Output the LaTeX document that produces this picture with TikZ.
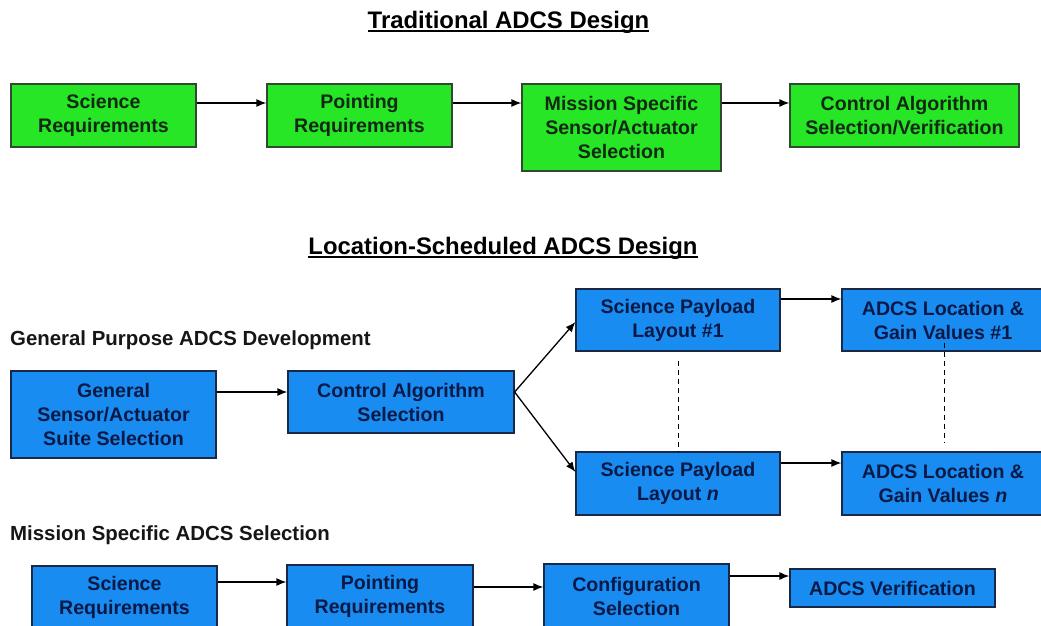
\documentclass[tikz,border=0pt]{standalone}
\usepackage{fontspec}
\setmainfont{Liberation Sans}
\usetikzlibrary{arrows.meta,positioning,calc}
\definecolor{gfill}{RGB}{38,230,38}
\definecolor{gdraw}{RGB}{50,72,50}
\definecolor{gtext}{RGB}{18,40,18}
\definecolor{bfill}{RGB}{24,140,240}
\definecolor{bdraw}{RGB}{25,40,70}
\definecolor{btext}{RGB}{10,25,70}
\definecolor{ltext}{RGB}{22,22,22}
\tikzset{
  boxbase/.style={line width=1.2pt, inner sep=0pt, align=center,
    font=\fontsize{19.6}{24}\selectfont\bfseries},
  gbox/.style={boxbase, draw=gdraw, fill=gfill, text=gtext},
  bbox/.style={boxbase, draw=bdraw, fill=bfill, text=btext},
  arr/.style={line width=1.3pt, -{Latex[length=10pt,width=8pt]}},
  dash line/.style={line width=0.9pt, dash pattern=on 5pt off 4pt},
  titletext/.style={inner sep=0pt, font=\fontsize{23.9}{28}\selectfont\bfseries},
  lbl/.style={inner sep=0pt, anchor=west, text=ltext, font=\fontsize{20.4}{24}\selectfont\bfseries},
}
\begin{document}
\begin{tikzpicture}[x=1pt,y=-1pt]
\useasboundingbox (0,0) rectangle (1041,626);
\fill[white] (0,0) rectangle (1041,626);

% Titles
\node[titletext] (title1) at (508.5,22) {Traditional ADCS Design};
\draw[line width=1.8pt] ([yshift=-3pt]title1.base west) -- ([yshift=-3pt]title1.base east);
\node[titletext] (title2) at (503,248) {Location-Scheduled ADCS Design};
\draw[line width=1.8pt] ([yshift=-3pt]title2.base west) -- ([yshift=-3pt]title2.base east);

% Traditional row
\node[gbox, minimum width=185pt, minimum height=63pt] (t1) at (103.5,115.5) {Science\\Requirements};
\node[gbox, minimum width=185pt, minimum height=63pt] (t2) at (359.5,115.5) {Pointing\\Requirements};
\node[gbox, minimum width=199pt, minimum height=87pt] (t3) at (621.5,127.5) {Mission Specific\\Sensor/Actuator\\Selection};
\node[gbox, minimum width=229pt, minimum height=63pt] (t4) at (904.5,115.5) {Control Algorithm\\Selection/Verification};
\draw[arr] ([yshift=12.5pt]t1.east) -- ([yshift=12.5pt]t1.east -| t2.west);
\draw[arr] ([yshift=12.5pt]t2.east) -- ([yshift=12.5pt]t2.east -| t3.west);
\draw[arr] ([yshift=24.5pt]t3.east) -- ([yshift=24.5pt]t3.east -| t4.west);

% General purpose
\node[lbl] (lg) at (10,340) {General Purpose ADCS Development};
\node[bbox, minimum width=205pt, minimum height=87pt] (g1) at (113.5,414.5) {General\\Sensor/Actuator\\Suite Selection};
\node[bbox, minimum width=226pt, minimum height=62pt] (g2) at (401,402) {Control Algorithm\\Selection};
\node[bbox, minimum width=204pt, minimum height=62pt] (p1) at (678,320) {Science Payload\\Layout \#1};
\node[bbox, minimum width=202pt, minimum height=62pt] (a1) at (943,320) {ADCS Location \&\\Gain Values \#1};
\node[bbox, minimum width=204pt, minimum height=63pt] (pn) at (678,483.5) {Science Payload\\Layout \textit{n}};
\node[bbox, minimum width=202pt, minimum height=63pt] (an) at (943,483.5) {ADCS Location \&\\Gain Values \textit{n}};
\draw[arr] ([yshift=22.5pt]g1.east) -- ([yshift=22.5pt]g1.east -| g2.west);
\coordinate (split) at ([yshift=10pt]g2.east);
\draw[arr] (split) -- ([yshift=-2pt]p1.west);
\draw[arr] (split) -- ([yshift=11.5pt]pn.west);
\draw[arr] ([yshift=21pt]p1.east) -- ([yshift=21pt]p1.east -| a1.west);
\draw[arr] ([yshift=20.5pt]pn.east) -- ([yshift=20.5pt]pn.east -| an.west);
\draw[dash line] ([yshift=-9pt]p1.south) -- (pn.north);
\draw[dash line] ([xshift=1pt,yshift=9pt]a1.south) -- ([xshift=1pt,yshift=9pt]an.north);

% Mission specific
\node[lbl] (lm) at (10,535) {Mission Specific ADCS Selection};
\node[bbox, minimum width=185pt, minimum height=62pt] (b1) at (124.5,597) {Science\\Requirements};
\node[bbox, minimum width=186pt, minimum height=62pt] (b2) at (380,596) {Pointing\\Requirements};
\node[bbox, minimum width=185pt, minimum height=64pt] (b3) at (636.5,596) {Configuration\\Selection};
\node[bbox, minimum width=205pt, minimum height=38pt] (b4) at (892.5,588) {ADCS Verification};
\draw[arr] ([yshift=15pt]b1.east) -- ([yshift=15pt]b1.east -| b2.west);
\draw[arr] ([yshift=9pt]b2.east) -- ([yshift=9pt]b2.east -| b3.west);
\draw[arr] ([yshift=20pt]b3.east) -- ([yshift=20pt]b3.east -| b4.west);
\end{tikzpicture}
\end{document}
